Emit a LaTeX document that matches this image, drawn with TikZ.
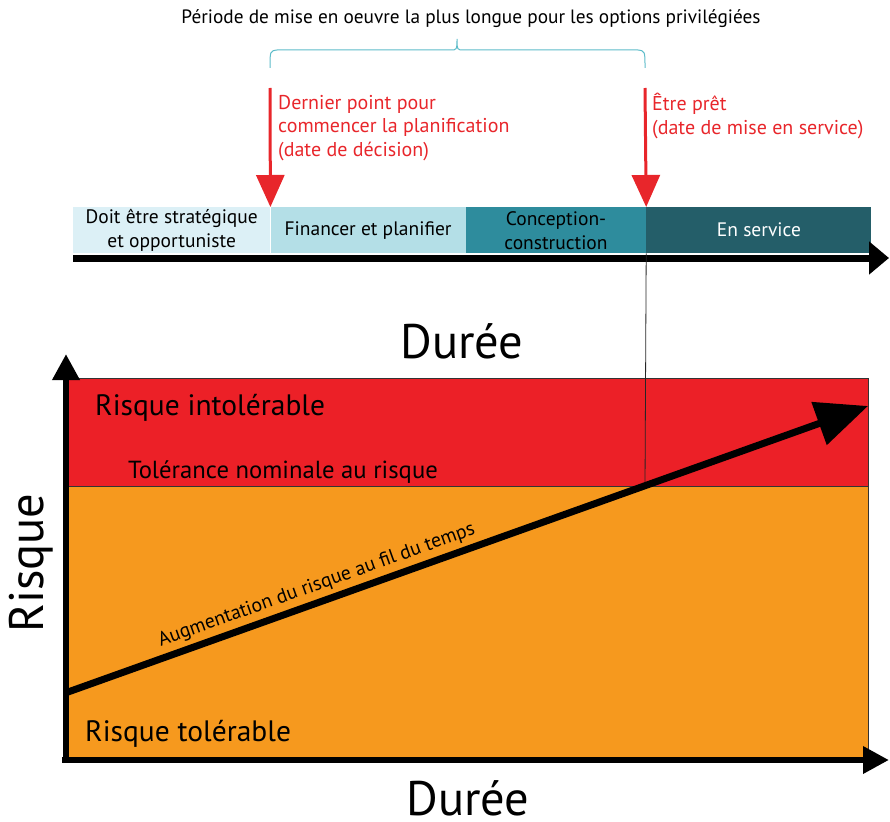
\documentclass[tikz,border=0pt]{standalone}
\usepackage{fontspec}
\setmainfont{PT Sans}
\usetikzlibrary{arrows.meta}
\definecolor{alertred}{HTML}{E8262B}
\definecolor{zonered}{HTML}{EC2027}
\definecolor{zoneorange}{HTML}{F6991E}
\definecolor{phaseA}{HTML}{DCF0F6}
\definecolor{phaseB}{HTML}{B4DFE7}
\definecolor{phaseC}{HTML}{2E8C9D}
\definecolor{phaseD}{HTML}{245E69}
\definecolor{bracecol}{HTML}{5DBCC9}
\tikzset{
  phase/.style={anchor=north west, minimum height=46pt, inner sep=0pt,
    align=center, font=\fontsize{19.5}{24}\selectfont},
  decision/.style={draw=alertred, line width=3pt,
    -{Triangle[length=32pt, width=28pt]}},
  redlabel/.style={anchor=north west, align=left, text=alertred,
    inner sep=0pt, font=\fontsize{20}{23.5}\selectfont},
  axis/.style={line width=6.5pt, -{Triangle[length=26pt, width=26pt]}},
  zonelabel/.style={anchor=base west, inner sep=0pt},
  bigtitle/.style={inner sep=0pt, anchor=base, font=\fontsize{48.5}{52}\selectfont},
  zoneedge/.style={draw=black!80, line width=0.8pt},
}
\begin{document}
\begin{tikzpicture}[x=1pt, y=-1pt]
\useasboundingbox (0,0) rectangle (890,821);

% heading and brace over the implementation period
\node[inner sep=0pt, font=\fontsize{19.3}{22}\selectfont, anchor=base]
  (period) at (471,24) {Période de mise en oeuvre la plus longue pour les options privilégiées};
\draw[bracecol, line width=1pt]
  (270,68) .. controls (270,51) .. (277,50) -- (450,50)
  .. controls (457,50) .. (457,39) .. controls (457,50) .. (464,50)
  -- (638,50) .. controls (645,51) .. (645,68);

% project phases along the timeline
\node[phase, fill=phaseA, minimum width=197pt] (p1) at (73,207)
  {Doit être stratégique\\et opportuniste};
\node[phase, fill=phaseB, minimum width=195pt] (p2) at (p1.north east)
  {Financer et planifier};
\node[phase, fill=phaseC, minimum width=180pt] (p3) at (p2.north east)
  {Conception-\\construction};
\node[phase, fill=phaseD, minimum width=225pt, text=white] (p4) at (p3.north east)
  {En service};

% timeline axis
\coordinate (t0) at (73,258);
\coordinate (t1) at (889,258);
\draw[line width=7pt, -{Triangle[length=20pt, width=32pt]}] (t0) -- (t1);

% milestones
\coordinate (m1) at (270,88);
\coordinate (m2) at (645,88);
\draw[decision] (m1) -- (p1.north east);
\draw[decision] (m2) -- (p3.north east);
\node[redlabel] (m1text) at (278,95)
  {Dernier point pour\\commencer la planification\\(date de décision)};
\node[redlabel] (m2text) at (652,93)
  {Être prêt\\(date de mise en service)};

\node[bigtitle] (dureeTop) at (462,358) {Durée};

% risk zones
\fill[zoneorange] (67,486) rectangle (868,760);
\fill[zonered] (67,378) rectangle (868,486);
\draw[zoneedge] (67,378) rectangle (868,760);
\draw[zoneedge] (67,486) -- (868,486);

% in-service date projected onto the risk chart
\coordinate (cross) at (645,486);
\draw[black!85, line width=0.8pt] (p3.south east) -- (cross);

\node[zonelabel, font=\fontsize{29.5}{33}\selectfont] (intol) at (95,415) {Risque intolérable};
\node[zonelabel, font=\fontsize{24.7}{28}\selectfont] (nominal) at (128,478) {Tolérance nominale au risque};
\node[zonelabel, font=\fontsize{29.5}{33}\selectfont] (tol) at (85,741) {Risque tolérable};

% rising risk over time
\coordinate (r0) at (68,692);
\coordinate (r1) at (868,406);
\draw[line width=7pt, -{Triangle[length=52pt, width=44pt]}] (r0) --
  node[pos=0.318, sloped, above, inner sep=4pt, font=\fontsize{19.8}{22}\selectfont]
  (trend) {Augmentation du risque au fil du temps} (r1);

% chart axes
\coordinate (o) at (66,760);
\coordinate (ytop) at (66,354);
\coordinate (xend) at (889,760);
\draw[axis] ([yshift=-3pt]o) -- (ytop);
\draw[axis] ([xshift=-4pt]o) -- (xend);

\node[bigtitle, rotate=90] (risque) at (43,563) {Risque};
\node[bigtitle] (dureeBottom) at (468,815) {Durée};
\end{tikzpicture}
\end{document}
